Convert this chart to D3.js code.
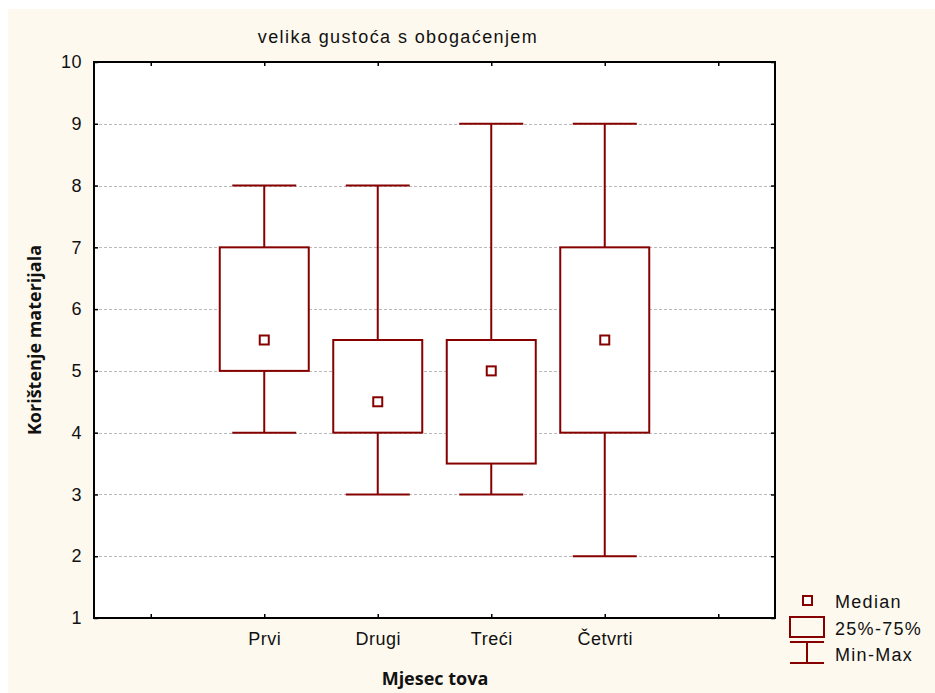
<!DOCTYPE html>
<meta charset="utf-8">
<style>
  body { margin: 0; background: #fff; }
  text { font-family: Arial, "Liberation Sans", sans-serif; fill: #111; }
</style>
<svg width="935" height="693"></svg>
<script src="https://d3js.org/d3.v7.min.js"></script>
<script>

var categories = ["Prvi", "Drugi", "Treći", "Četvrti"];
var minVals    = [4, 3, 3, 2];
var q1Vals     = [5, 4, 3.5, 4];
var medianVals = [5.5, 4.5, 5, 5.5];
var q3Vals     = [7, 5.5, 5.5, 7];
var maxVals    = [8, 8, 9, 9];
var yTicks     = [1, 2, 3, 4, 5, 6, 7, 8, 9, 10];
var legendLabels = ["Median", "25%-75%", "Min-Max"];

var red = "#860000";

var svg = d3.select("svg"),
    margin = {left: 94, right: 160, top: 62, bottom: 75},
    width = 935,
    height = 693;

svg.append("rect")
    .attr("x", 8).attr("y", 9)
    .attr("width", width - 8).attr("height", height - 9)
    .attr("fill", "#fef9ef");

// slots: one empty slot each side of the four categories
var slots = ["_a"].concat(categories, ["_b"]);

var x = d3.scalePoint()
    .domain(slots)
    .range([margin.left, 775])
    .padding(0.5);

var y = d3.scaleLinear()
    .domain([1, 10])
    .range([618, margin.top]);

var g = svg.append("g");

g.append("rect")
    .attr("x", x.range()[0]).attr("y", y(10))
    .attr("width", x.range()[1] - x.range()[0])
    .attr("height", y(1) - y(10))
    .attr("fill", "#fff");

// grid
g.selectAll(".grid")
    .data(yTicks.filter(function(d) { return d > 1 && d < 10; }))
    .enter().append("line")
    .attr("x1", x.range()[0]).attr("x2", x.range()[1])
    .attr("y1", function(d) { return Math.round(y(d)) + 0.5; })
    .attr("y2", function(d) { return Math.round(y(d)) + 0.5; })
    .attr("stroke", "#bbb")
    .attr("stroke-width", 1)
    .attr("stroke-dasharray", "3,2");

var data = categories.map(function(c, i) {
  return {cat: c, min: minVals[i], q1: q1Vals[i], med: medianVals[i], q3: q3Vals[i], max: maxVals[i]};
});

var boxW = 89, capW = 64;

var box = g.selectAll(".box")
    .data(data)
    .enter().append("g");

box.append("line")
    .attr("x1", function(d) { return x(d.cat); })
    .attr("x2", function(d) { return x(d.cat); })
    .attr("y1", function(d) { return y(d.min); })
    .attr("y2", function(d) { return y(d.max); })
    .attr("stroke", red).attr("stroke-width", 2);

box.append("line")
    .attr("x1", function(d) { return x(d.cat) - capW / 2; })
    .attr("x2", function(d) { return x(d.cat) + capW / 2; })
    .attr("y1", function(d) { return y(d.max); })
    .attr("y2", function(d) { return y(d.max); })
    .attr("stroke", red).attr("stroke-width", 2);

box.append("line")
    .attr("x1", function(d) { return x(d.cat) - capW / 2; })
    .attr("x2", function(d) { return x(d.cat) + capW / 2; })
    .attr("y1", function(d) { return y(d.min); })
    .attr("y2", function(d) { return y(d.min); })
    .attr("stroke", red).attr("stroke-width", 2);

box.append("rect")
    .attr("x", function(d) { return x(d.cat) - boxW / 2; })
    .attr("y", function(d) { return y(d.q3); })
    .attr("width", boxW)
    .attr("height", function(d) { return y(d.q1) - y(d.q3); })
    .attr("fill", "#fff")
    .attr("stroke", red).attr("stroke-width", 2);

box.append("rect")
    .attr("x", function(d) { return x(d.cat) - 4.5; })
    .attr("y", function(d) { return y(d.med) - 4.5; })
    .attr("width", 9).attr("height", 9)
    .attr("fill", "#fff")
    .attr("stroke", red).attr("stroke-width", 2);

// frame
g.append("rect")
    .attr("x", x.range()[0]).attr("y", y(10))
    .attr("width", x.range()[1] - x.range()[0])
    .attr("height", y(1) - y(10))
    .attr("fill", "none")
    .attr("stroke", "#000").attr("stroke-width", 2);

// axes (ticks drawn inward)
var yAxis = d3.axisLeft(y).tickValues(yTicks).tickSize(-4).tickPadding(12).tickFormat(d3.format("d"));
var yAxisR = d3.axisRight(y).tickValues(yTicks).tickSize(-4).tickFormat("");
var xAxis = d3.axisBottom(x).tickSize(-4).tickPadding(14)
    .tickFormat(function(d) { return d.charAt(0) === "_" ? "" : d; });
var xAxisT = d3.axisTop(x).tickSize(-4).tickFormat("");

function styleAxis(sel) {
  sel.select(".domain").remove();
  sel.selectAll(".tick line").attr("stroke", "#000").attr("stroke-width", 1.5);
  sel.selectAll(".tick text")
      .attr("fill", "#111")
      .style("font-family", "Arial, 'Liberation Sans', sans-serif")
      .style("font-size", "18px")
      .style("letter-spacing", "0.5px");
}

svg.append("g").attr("transform", "translate(" + x.range()[0] + ",0)").call(yAxis).call(styleAxis);
svg.append("g").attr("transform", "translate(" + x.range()[1] + ",0)").call(yAxisR).call(styleAxis);
svg.append("g").attr("transform", "translate(0," + y(1) + ")").call(xAxis).call(styleAxis);
svg.append("g").attr("transform", "translate(0," + y(10) + ")").call(xAxisT).call(styleAxis);

// titles
svg.append("text")
    .attr("x", 398).attr("y", 43)
    .attr("text-anchor", "middle")
    .style("font-size", "18px")
    .style("letter-spacing", "1.4px")
    .text("velika gustoća s obogaćenjem");

svg.append("text")
    .attr("x", 435).attr("y", 685)
    .attr("text-anchor", "middle")
    .style("font-family", "'Open Sans', sans-serif")
    .style("font-weight", "bold")
    .style("font-size", "18px")
    .text("Mjesec tova");

svg.append("text")
    .attr("transform", "translate(41,340) rotate(-90)")
    .attr("text-anchor", "middle")
    .style("font-family", "'Open Sans', sans-serif")
    .style("font-weight", "bold")
    .style("font-size", "18px")
    .text("Korištenje materijala");

// legend
var lg = svg.append("g");
lg.append("rect")
    .attr("x", 803).attr("y", 596).attr("width", 9).attr("height", 9)
    .attr("fill", "#fff").attr("stroke", red).attr("stroke-width", 2);
lg.append("rect")
    .attr("x", 790).attr("y", 617).attr("width", 34).attr("height", 20)
    .attr("fill", "none").attr("stroke", red).attr("stroke-width", 2);
lg.append("line").attr("x1", 790).attr("x2", 824).attr("y1", 642).attr("y2", 642)
    .attr("stroke", red).attr("stroke-width", 2);
lg.append("line").attr("x1", 790).attr("x2", 824).attr("y1", 663).attr("y2", 663)
    .attr("stroke", red).attr("stroke-width", 2);
lg.append("line").attr("x1", 807).attr("x2", 807).attr("y1", 642).attr("y2", 663)
    .attr("stroke", red).attr("stroke-width", 2);

lg.selectAll(".lt")
    .data(legendLabels)
    .enter().append("text")
    .attr("x", 835)
    .attr("y", function(d, i) { return 608 + i * 26.5; })
    .style("font-size", "18px")
    .style("letter-spacing", "1.3px")
    .text(function(d) { return d; });

</script>
